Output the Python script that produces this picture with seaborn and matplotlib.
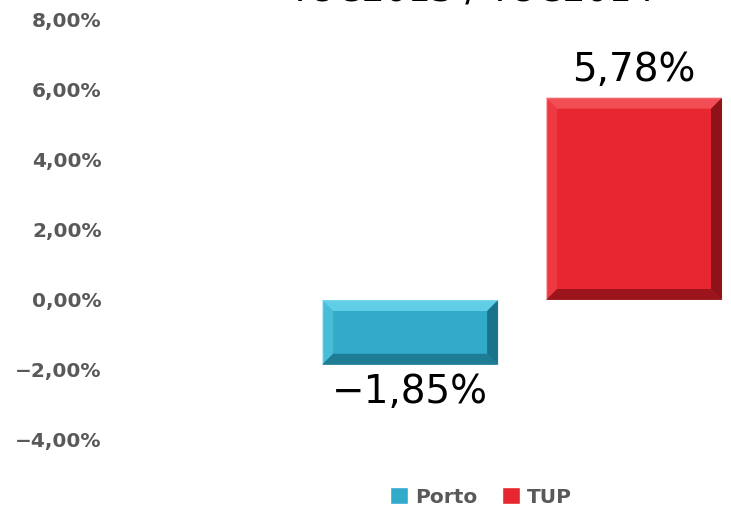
import matplotlib
matplotlib.use('Agg')
import matplotlib.pyplot as plt
from matplotlib.patches import Polygon
from matplotlib.ticker import FuncFormatter
import numpy as np
import pandas as pd
import seaborn as sns

# data
series = ['Porto', 'TUP']
values = [-1.85, 5.78]
value_labels = ['\u22121,85%', '5,78%']
colors = ['#31abc9', '#e8262f']
bevel_light = ['#67d3ec', '#f2525a']
bevel_dark = ['#176a80', '#7e0f15']
title_text = 'YOC2013 / YOC2014'

df = pd.DataFrame({'serie': series, 'valor': values})

sns.set_style('white')
plt.rcParams['font.family'] = ['DejaVu Sans']

fig = plt.figure(figsize=(7.31, 5.12), dpi=100)
ax = fig.add_axes([110 / 731, 72 / 512, 621 / 731, 420 / 512])

sns.barplot(data=df, x='serie', y='valor', hue='serie', palette=colors,
            width=0.786, legend=True, ax=ax, saturation=1)

ax.set_ylim(-4, 8)
ax.set_yticks(np.arange(-4, 9, 2))
ax.set_xlim(-1.34, 1.433)
ax.yaxis.set_major_formatter(FuncFormatter(
    lambda v, p: ('%.2f%%' % v).replace('.', ',').replace('-', '\u2212')))
ax.tick_params(axis='y', length=0, pad=6, labelsize=14.5, labelcolor='#595959')
for t in ax.get_yticklabels():
    t.set_fontweight('bold')
ax.set_xticks([])
ax.set_xlabel('')
ax.set_ylabel('')
sns.despine(ax=ax, left=True, bottom=True, top=True, right=True)

# bevel effect on each bar, built from the bar patches
bars = ax.patches[:len(values)]
fig.canvas.draw()
inv = ax.transData.inverted()
bev = 11
for i, b in enumerate(bars):
    (x0, y0), (x1, y1) = ax.transData.transform(
        [(b.get_x(), min(b.get_y(), b.get_y() + b.get_height())),
         (b.get_x() + b.get_width(), max(b.get_y(), b.get_y() + b.get_height()))])
    outer = [(x0, y0), (x1, y0), (x1, y1), (x0, y1)]
    inner = [(x0 + bev, y0 + bev), (x1 - bev, y0 + bev), (x1 - bev, y1 - bev), (x0 + bev, y1 - bev)]
    sides = [
        ([outer[3], outer[2], inner[2], inner[3]], bevel_light[i], 0.9),  # top
        ([outer[0], outer[3], inner[3], inner[0]], bevel_light[i], 0.45),  # left
        ([outer[1], outer[2], inner[2], inner[1]], bevel_dark[i], 0.85),  # right
        ([outer[0], outer[1], inner[1], inner[0]], bevel_dark[i], 0.7),  # bottom
    ]
    for pts, c, a in sides:
        ax.add_patch(Polygon(inv.transform(pts), closed=True, facecolor=c,
                             alpha=a, edgecolor='none', zorder=3))

for i, b in enumerate(bars):
    ax.bar_label(ax.containers[i], labels=[value_labels[i]], padding=6,
                 fontsize=28, color='black')

sns.move_legend(ax, 'lower center', bbox_to_anchor=(0.658, -0.025),
                bbox_transform=fig.transFigure, ncol=2, frameon=False,
                title=None, fontsize=14.5, handlelength=0.9, handleheight=0.9,
                columnspacing=1.2, handletextpad=0.35)
for t in ax.get_legend().get_texts():
    t.set_color('#595959')
    t.set_fontweight('bold')

# title sits mostly above the top edge, as in the source image
fig.text(0.645, 1 - 1 / 512, title_text, ha='center', va='baseline',
         fontsize=26, color='black')

fig.savefig('out.png', dpi=100)
